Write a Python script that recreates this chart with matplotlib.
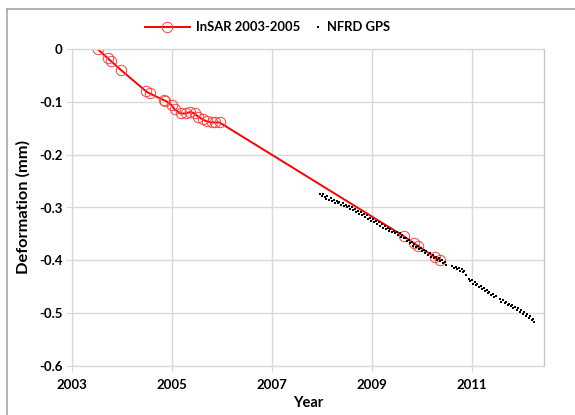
import numpy as np
import matplotlib.pyplot as plt
from matplotlib.lines import Line2D

# -------------------------------
# DATA
# -------------------------------
insar_year = [2003.51, 2003.71, 2003.78, 2003.97, 2004.48, 2004.55, 2004.84,
              2004.87, 2004.99, 2005.05, 2005.17, 2005.27, 2005.37, 2005.45,
              2005.52, 2005.61, 2005.69, 2005.80, 2005.87, 2005.95,
              2009.63, 2009.83, 2009.92, 2010.26, 2010.36]
insar_def = [0.000, -0.017, -0.023, -0.039, -0.080, -0.084, -0.097,
             -0.098, -0.106, -0.114, -0.122, -0.122, -0.119, -0.122,
             -0.128, -0.133, -0.137, -0.139, -0.139, -0.139,
             -0.354, -0.367, -0.373, -0.394, -0.399]

gps_year = [2007.96, 2007.99, 2008.02, 2008.05, 2008.08, 2008.11, 2008.14, 2008.17,
            2008.20, 2008.23, 2008.26, 2008.29, 2008.32, 2008.35, 2008.38, 2008.41,
            2008.44, 2008.47, 2008.50, 2008.53, 2008.56, 2008.59, 2008.62, 2008.65,
            2008.68, 2008.71, 2008.74, 2008.77, 2008.80, 2008.83, 2008.86, 2008.89,
            2008.92, 2008.95, 2008.98, 2009.01, 2009.04, 2009.07, 2009.10, 2009.13,
            2009.16, 2009.19, 2009.22, 2009.25, 2009.28, 2009.31, 2009.34, 2009.37,
            2009.40, 2009.43, 2009.46, 2009.49, 2009.52, 2009.55, 2009.58, 2009.61,
            2009.64, 2009.67, 2009.70, 2009.73, 2009.76, 2009.79, 2009.82, 2009.85,
            2009.88, 2009.91, 2009.94, 2009.97, 2010.00, 2010.03, 2010.06, 2010.09,
            2010.12, 2010.15, 2010.18, 2010.21, 2010.24, 2010.27, 2010.30, 2010.33,
            2010.36, 2010.39, 2010.42, 2010.45, 2010.48,
            2010.61, 2010.64, 2010.67, 2010.70, 2010.73, 2010.76, 2010.79, 2010.82,
            2010.85, 2010.88,
            2010.93, 2010.96, 2010.99, 2011.02, 2011.05, 2011.08, 2011.11, 2011.14,
            2011.17, 2011.20, 2011.23, 2011.26, 2011.29, 2011.32, 2011.35, 2011.38,
            2011.41, 2011.44, 2011.47,
            2011.56, 2011.59, 2011.62, 2011.65, 2011.68, 2011.71, 2011.74, 2011.77,
            2011.80, 2011.83, 2011.86, 2011.89, 2011.92, 2011.95, 2011.98, 2012.01,
            2012.04, 2012.07, 2012.10, 2012.13, 2012.16, 2012.19, 2012.22, 2012.24]
gps_def = [-0.275, -0.279, -0.274, -0.280, -0.283, -0.279, -0.285, -0.282,
           -0.288, -0.286, -0.291, -0.287, -0.292, -0.290, -0.295, -0.292,
           -0.298, -0.295, -0.300, -0.297, -0.303, -0.300, -0.305, -0.302,
           -0.309, -0.306, -0.312, -0.309, -0.315, -0.312, -0.318, -0.315,
           -0.322, -0.319, -0.325, -0.322, -0.328, -0.325, -0.331, -0.328,
           -0.335, -0.331, -0.338, -0.335, -0.341, -0.338, -0.344, -0.341,
           -0.347, -0.344, -0.349, -0.346, -0.352, -0.349, -0.355, -0.352,
           -0.358, -0.357, -0.363, -0.361, -0.368, -0.365, -0.372, -0.369,
           -0.375, -0.373, -0.379, -0.376, -0.382, -0.380, -0.386, -0.383,
           -0.389, -0.386, -0.393, -0.390, -0.396, -0.393, -0.399, -0.396,
           -0.402, -0.399, -0.405, -0.403, -0.408,
           -0.410, -0.414, -0.412, -0.417, -0.414, -0.420, -0.417, -0.423,
           -0.421, -0.427,
           -0.436, -0.440, -0.438, -0.444, -0.441, -0.447, -0.445, -0.451,
           -0.448, -0.455, -0.452, -0.458, -0.456, -0.462, -0.459, -0.466,
           -0.463, -0.469, -0.467,
           -0.474, -0.478, -0.476, -0.481, -0.479, -0.484, -0.482, -0.487,
           -0.485, -0.491, -0.488, -0.494, -0.491, -0.497, -0.494, -0.501,
           -0.498, -0.505, -0.502, -0.509, -0.506, -0.513, -0.511, -0.516]

x_ticks = [2003, 2005, 2007, 2009, 2011]
y_ticks = [0, -0.1, -0.2, -0.3, -0.4, -0.5, -0.6]
y_labels = ["0", "-0.1", "-0.2", "-0.3", "-0.4", "-0.5", "-0.6"]
legend_labels = ["InSAR 2003-2005", "NFRD GPS"]

# -------------------------------
# PLOT
# -------------------------------
plt.rcParams['font.family'] = ['Lato', 'DejaVu Sans']
plt.rcParams['font.weight'] = 'bold'

W, H = 575, 415
fig = plt.figure(figsize=(W / 100, H / 100), dpi=100)
ax = fig.add_axes([72 / W, 1 - 366 / H, (544 - 72) / W, (366 - 49) / H])

grid_c = '#d9d9d9'
ax.set_xlim(2003, 2012.44)
ax.set_ylim(-0.6, 0)
ax.set_xticks(x_ticks)
ax.set_yticks(y_ticks)
ax.set_yticklabels(y_labels)
ax.grid(True, color=grid_c, linewidth=1.0)
ax.set_axisbelow(True)
for s in ax.spines.values():
    s.set_color(grid_c)
    s.set_linewidth(1.0)
ax.spines['right'].set_color('#c8c8c8')
ax.tick_params(axis='both', length=4, color=grid_c, labelsize=9.5, pad=3)
ax.tick_params(axis='x', pad=5)

red = '#ff0000'
circ = '#ff4040'
ax.plot(insar_year, insar_def, color=red, linewidth=1.4,
        marker='o', markersize=7.5, markerfacecolor='none',
        markeredgecolor=circ, markeredgewidth=0.7, zorder=2)
ax.plot(gps_year, gps_def, linestyle='none', marker='s', markersize=2.1,
        color='black', markeredgewidth=0, zorder=3)

ax.set_xlabel("Year", fontsize=10.5, fontweight='bold', labelpad=4)
ax.set_ylabel("Deformation (mm)", fontsize=11.8, fontweight='bold', labelpad=6)

# legend drawn by hand to match the spacing of the original
ly = 1 - 27 / H
fig.add_artist(Line2D([145 / W, 190 / W], [ly, ly], color=red, linewidth=1.4,
                      transform=fig.transFigure))
fig.add_artist(Line2D([167 / W], [ly], marker='o', markersize=7.5,
                      markerfacecolor='none', markeredgecolor=circ,
                      markeredgewidth=0.7, transform=fig.transFigure))
fig.text(196 / W, ly, legend_labels[0], fontsize=9.4, fontweight='bold',
         va='center', ha='left')
fig.add_artist(Line2D([318 / W], [ly], marker='s', markersize=1.9,
                      color='black', markeredgewidth=0, transform=fig.transFigure))
fig.text(327 / W, ly, legend_labels[1], fontsize=9.4, fontweight='bold',
         va='center', ha='left')

# outer chart border (top and left visible)
fig.add_artist(Line2D([7 / W, 7 / W], [0, 1 - 9 / H], color='#a6a6a6',
                      linewidth=1.2, transform=fig.transFigure))
fig.add_artist(Line2D([7 / W, 1], [1 - 9 / H, 1 - 9 / H], color='#a6a6a6',
                      linewidth=1.2, transform=fig.transFigure))

fig.savefig("out.png", dpi=100)
